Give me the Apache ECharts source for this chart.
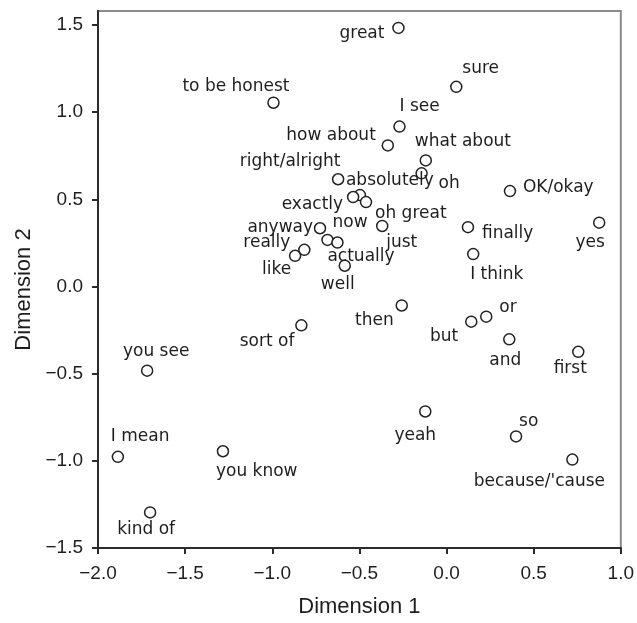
<!DOCTYPE html>
<html>
<head>
<meta charset="utf-8">
<script src="https://cdn.jsdelivr.net/npm/echarts@6/dist/echarts.min.js"></script>
<style>
  html, body { margin: 0; padding: 0; background: #fff; }
  #chart { width: 637px; height: 623px; }
</style>
</head>
<body>
<div id="chart"></div>
<script>
// Discourse markers placed on two MDS dimensions
const markers = ['great', 'sure', 'to be honest', 'I see', 'how about', 'what about',
  'right/alright', 'absolutely', 'oh', 'exactly', 'oh great', 'OK/okay', 'yes',
  'finally', 'I think', 'anyway', 'now', 'actually', 'really', 'like', 'well', 'just',
  'then', 'sort of', 'or', 'but', 'and', 'first', 'yeah', 'so', "because/'cause",
  'you see', 'I mean', 'you know', 'kind of'];

const dim1 = [-0.276, 0.056, -0.993, -0.270, -0.337, -0.119,
  -0.622, -0.497, -0.143, -0.536, -0.462, 0.364, 0.876,
  0.123, 0.153, -0.726, -0.683, -0.626, -0.816, -0.869, -0.584, -0.369,
  -0.257, -0.833, 0.228, 0.142, 0.360, 0.756, -0.122, 0.399, 0.722,
  -1.718, -1.886, -1.283, -1.701];

const dim2 = [1.483, 1.145, 1.054, 0.917, 0.809, 0.723,
  0.615, 0.524, 0.649, 0.513, 0.484, 0.547, 0.366,
  0.340, 0.186, 0.334, 0.267, 0.252, 0.210, 0.176, 0.119, 0.347,
  -0.109, -0.223, -0.173, -0.202, -0.303, -0.375, -0.717, -0.860, -0.993,
  -0.483, -0.977, -0.945, -1.296];

const xTicks = [-2.0, -1.5, -1.0, -0.5, 0.0, 0.5, 1.0];
const yTicks = [-1.5, -1.0, -0.5, 0.0, 0.5, 1.0, 1.5];

// Label anchoring for each marker: [text align, dx, dy] relative to the circle centre
const labelPlace = [
  ['right', -14, 6], ['left', 6, -18], ['right', 16, -16], ['left', 0, -20],
  ['right', -12, -10], ['left', -11, -19], ['center', -48, -18], ['left', -14, -15],
  ['left', 17, 10], ['right', -10, 8], ['left', 9, 11], ['left', 13, -4],
  ['center', -9, 20], ['left', 14, 6], ['left', -3, 21], ['right', -7, -1],
  ['left', 5, -17], ['left', -10, 14], ['right', -14, -7], ['right', -4, 14],
  ['center', -7, 19], ['left', 4, 17], ['right', -8, 15], ['right', -7, 16],
  ['left', 13, -9], ['right', -13, 15], ['center', -4, 21], ['center', -8, 17],
  ['center', -10, 24], ['left', 3, -15], ['center', -33, 22], ['center', 9, -19],
  ['left', -7, -20], ['left', -7, 20], ['center', -4, 17]
];

const fmt = v => (v < 0 ? '\u2212' : '') + Math.abs(v).toFixed(1);

const points = markers.map((name, i) => ({
  name: name,
  value: [dim1[i], dim2[i]],
  label: {
    align: labelPlace[i][0],
    offset: [labelPlace[i][1], labelPlace[i][2]]
  }
}));

const chart = echarts.init(document.getElementById('chart'), null, { renderer: 'canvas' });

const axisLineStyle = { color: '#2b2b2b', width: 2 };
const tickLabel = { color: '#1e1e1e', fontFamily: 'Liberation Sans, Arial, sans-serif', fontSize: 19 };

chart.setOption({
  animation: false,
  backgroundColor: '#ffffff',
  grid: {
    left: 98, right: 13, top: 11, bottom: 73,
    show: true, borderColor: '#8a8a8a', borderWidth: 2, backgroundColor: 'transparent'
  },
  xAxis: {
    type: 'value',
    min: -2.0, max: 1.0, interval: 0.5,
    name: 'Dimension 1',
    nameLocation: 'middle',
    nameGap: 48,
    nameTextStyle: { color: '#1e1e1e', fontFamily: 'Liberation Sans, Arial, sans-serif', fontSize: 22 },
    axisLine: { show: true, onZero: false, lineStyle: axisLineStyle },
    axisTick: { show: true, inside: false, length: 6, lineStyle: axisLineStyle, customValues: xTicks },
    axisLabel: Object.assign({ margin: 16, formatter: fmt, customValues: xTicks }, tickLabel),
    splitLine: { show: false }
  },
  yAxis: {
    type: 'value',
    min: -1.5, max: 1.58, interval: 0.5,
    name: 'Dimension 2',
    nameLocation: 'middle',
    nameGap: 62,
    nameTextStyle: {
      color: '#1e1e1e', fontFamily: 'Liberation Sans, Arial, sans-serif', fontSize: 22,
      padding: [0, 20, 0, 0]
    },
    axisLine: { show: true, onZero: false, lineStyle: axisLineStyle },
    axisTick: { show: true, inside: false, length: 6, lineStyle: axisLineStyle, customValues: yTicks },
    axisLabel: Object.assign({ margin: 15, formatter: fmt, customValues: yTicks }, tickLabel),
    splitLine: { show: false }
  },
  series: [{
    type: 'scatter',
    data: points,
    symbol: 'circle',
    symbolSize: 11,
    itemStyle: { color: '#ffffff', borderColor: '#222', borderWidth: 1.5, opacity: 1 },
    label: {
      show: true,
      position: 'inside',
      verticalAlign: 'middle',
      formatter: p => p.name,
      color: '#1e1e1e',
      fontFamily: 'DejaVu Sans, sans-serif',
      fontSize: 17
    },
    emphasis: { disabled: true },
    clip: false
  }]
});
</script>
</body>
</html>
